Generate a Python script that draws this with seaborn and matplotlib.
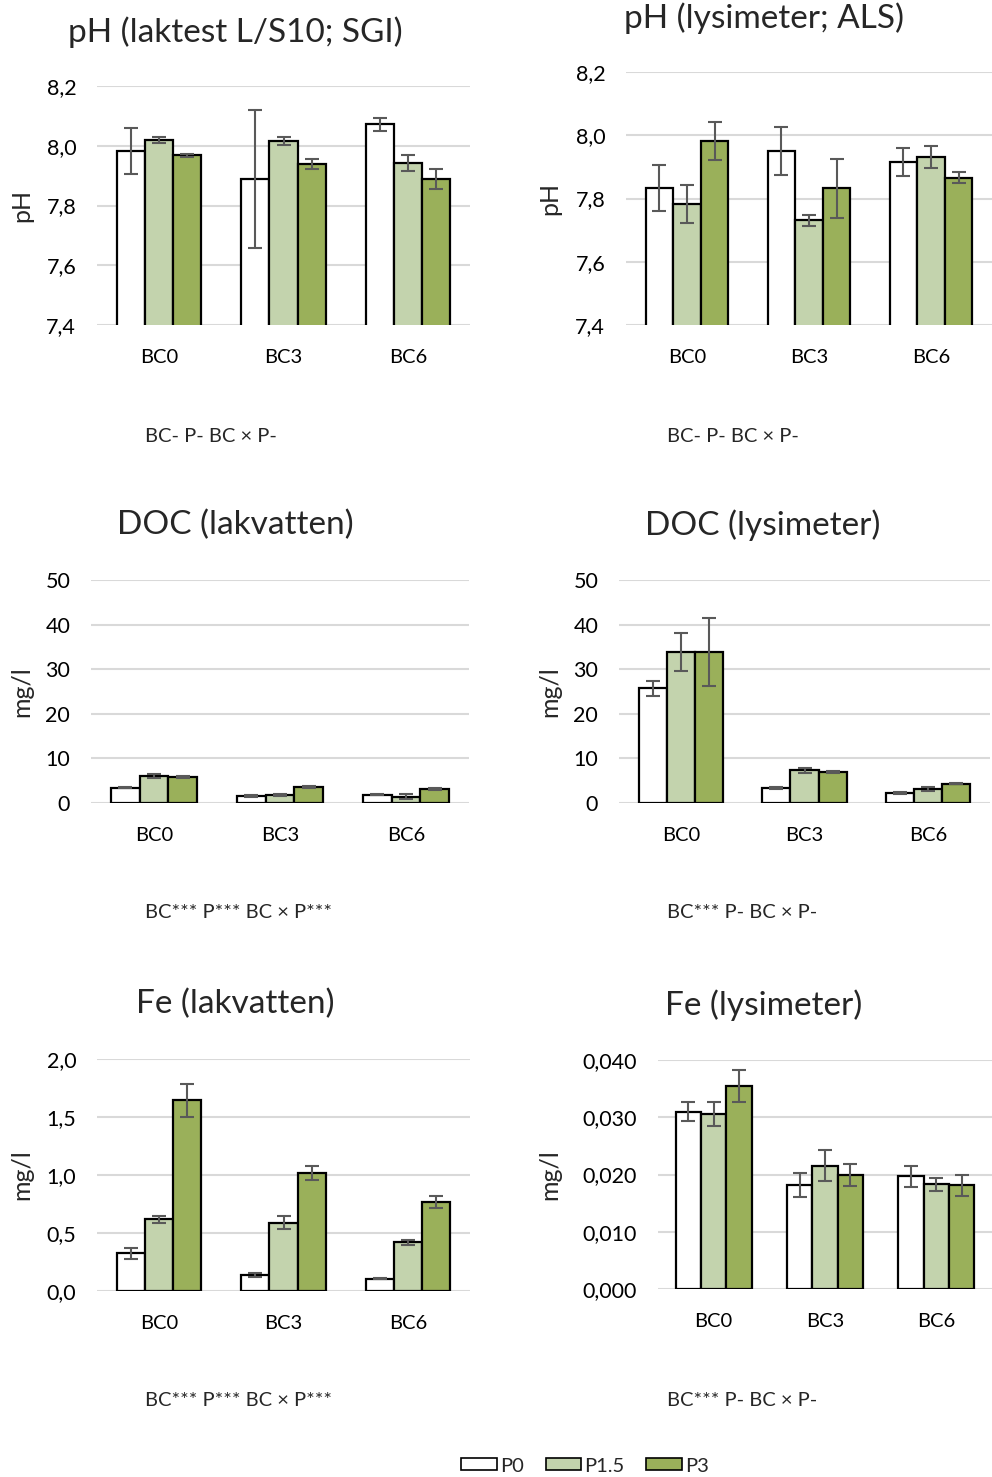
import numpy as np
import pandas as pd
import matplotlib
matplotlib.use("Agg")
import matplotlib.pyplot as plt
from matplotlib.patches import Patch
from matplotlib.ticker import FuncFormatter
import seaborn as sns

# ---- data -------------------------------------------------------------
biochar = ["BC0", "BC3", "BC6"]
phosphorus = ["P0", "P1.5", "P3"]

# values listed per BC level, in order P0, P1.5, P3
ph_leach = [7.983, 8.018, 7.968, 7.889, 8.016, 7.938, 8.072, 7.942, 7.888]
ph_leach_err = [0.076, 0.010, 0.005, 0.230, 0.013, 0.016, 0.022, 0.028, 0.033]

ph_lys = [7.832, 7.783, 7.983, 7.950, 7.731, 7.832, 7.916, 7.932, 7.866]
ph_lys_err = [0.073, 0.060, 0.060, 0.076, 0.017, 0.093, 0.044, 0.034, 0.017]

doc_leach = [3.43, 6.04, 5.82, 1.57, 1.79, 3.66, 1.87, 1.42, 3.06]
doc_leach_err = [0.10, 0.45, 0.30, 0.20, 0.15, 0.20, 0.10, 0.50, 0.20]

doc_lys = [25.7, 33.9, 33.9, 3.36, 7.31, 6.94, 2.16, 3.13, 4.33]
doc_lys_err = [1.6, 4.25, 7.6, 0.15, 0.55, 0.20, 0.25, 0.35, 0.10]

fe_leach = [0.325, 0.618, 1.646, 0.135, 0.589, 1.017, 0.106, 0.420, 0.764]
fe_leach_err = [0.046, 0.032, 0.142, 0.017, 0.057, 0.062, 0.003, 0.020, 0.052]

fe_lys = [0.0310, 0.0306, 0.0355, 0.0181, 0.0215, 0.0199, 0.0197, 0.0183, 0.0181]
fe_lys_err = [0.0017, 0.0021, 0.0028, 0.0021, 0.0027, 0.0019, 0.0018, 0.0011, 0.0019]

titles = ["pH (laktest L/S10; SGI)", "pH (lysimeter; ALS)",
          "DOC (lakvatten)", "DOC (lysimeter)",
          "Fe (lakvatten)", "Fe (lysimeter)"]
ylabels = ["pH", "pH", "mg/l", "mg/l", "mg/l", "mg/l"]
stats = ["BC- P- BC × P-", "BC- P- BC × P-",
         "BC*** P*** BC × P***", "BC*** P- BC × P-",
         "BC*** P*** BC × P***", "BC*** P- BC × P-"]
ylims = [(7.4, 8.2), (7.4, 8.2), (0, 50), (0, 50), (0, 2.0), (0, 0.040)]
yticks = [np.arange(7.4, 8.21, 0.2), np.arange(7.4, 8.21, 0.2),
          np.arange(0, 51, 10), np.arange(0, 51, 10),
          np.arange(0, 2.01, 0.5), np.arange(0, 0.0401, 0.01)]
decimals = [1, 1, 0, 0, 1, 3]

series = [(ph_leach, ph_leach_err), (ph_lys, ph_lys_err),
          (doc_leach, doc_leach_err), (doc_lys, doc_lys_err),
          (fe_leach, fe_leach_err), (fe_lys, fe_lys_err)]

colors = ["#FFFFFF", "#C3D3AD", "#9AB05A"]

# ---- layout (pixel boxes: left, top, right, bottom) -------------------
W, H = 992, 1477
boxes = [(97, 86, 470, 325), (626, 72, 992, 325),
         (91, 580, 469, 803), (619, 580, 990, 803),
         (97, 1059, 470, 1291), (658, 1060, 992, 1289)]
title_pos = [(235, 32), (764, 18), (235, 525), (763, 525), (235, 1004), (764, 1005)]
ylabel_x = [22, 550, 22, 550, 22, 550]
stat_pos = [(145, 436), (667, 436), (145, 913), (667, 913), (145, 1401), (667, 1401)]

sns.set_style("white")
plt.rcParams["font.family"] = ["Lato", "DejaVu Sans"]

fig = plt.figure(figsize=(W / 100, H / 100), dpi=100)


def fx(x):
    return x / W


def fy(y):
    return 1 - y / H


for i, (vals, errs) in enumerate(series):
    l, t, r, b = boxes[i]
    ax = fig.add_axes([fx(l), fy(b), fx(r) - fx(l), fy(t) - fy(b)])
    df = pd.DataFrame({
        "BC": np.repeat(biochar, 3),
        "P": phosphorus * 3,
        "value": vals,
    })
    sns.barplot(data=df, x="BC", y="value", hue="P", order=biochar,
                hue_order=phosphorus, palette=colors, saturation=1,
                errorbar=None, width=0.68, edgecolor="black", linewidth=1.6,
                legend=False, ax=ax, zorder=2)
    bar_groups = list(ax.containers)
    for k, cont in enumerate(bar_groups):
        for j, bar in enumerate(cont):
            cx = bar.get_x() + bar.get_width() / 2
            ax.errorbar(cx, bar.get_height(), yerr=errs[j * 3 + k],
                        color="#595959", lw=1.5, capsize=5, capthick=1.5,
                        zorder=3)
    ax.set_ylim(*ylims[i])
    ax.set_xlim(-0.5, 2.5)
    ax.set_yticks(yticks[i])
    d = decimals[i]
    ax.yaxis.set_major_formatter(
        FuncFormatter(lambda v, p, d=d: f"{v:.{d}f}".replace(".", ",")))
    ax.grid(axis="y", color="#D9D9D9", lw=1.5, zorder=0)
    ax.set_axisbelow(True)
    for s in ax.spines.values():
        s.set_visible(False)
    ax.tick_params(length=0, colors="black")
    ax.tick_params(axis="y", pad=15, labelsize=15.5)
    ax.tick_params(axis="x", pad=17, labelsize=14.5)
    ax.set_xlabel("")
    ax.set_ylabel("")
    fig.text(fx(title_pos[i][0]), fy(title_pos[i][1]), titles[i],
             ha="center", va="center", fontsize=24)
    fig.text(fx(ylabel_x[i]), fy((t + b) / 2), ylabels[i], rotation=90,
             ha="center", va="center", fontsize=18)
    fig.text(fx(stat_pos[i][0]), fy(stat_pos[i][1]), stats[i],
             ha="left", va="center", fontsize=14.5)

handles = [Patch(facecolor=c, edgecolor="black", lw=1.2) for c in colors]
fig.legend(handles, phosphorus, loc="center", bbox_to_anchor=(fx(585), fy(1466)),
           ncol=3, frameon=False, fontsize=14.5, handlelength=1.75,
           handleheight=0.55, handletextpad=0.15, columnspacing=1.1)

fig.savefig("out.png", dpi=100)
